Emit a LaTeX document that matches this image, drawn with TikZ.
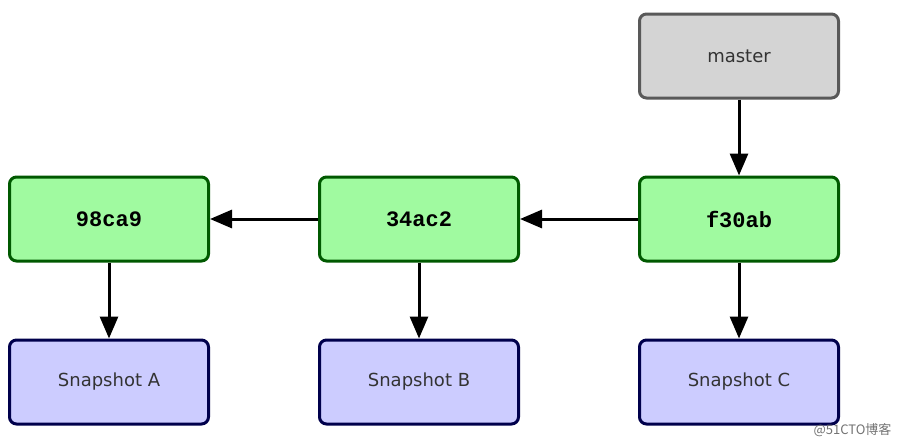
\documentclass[tikz,border=0pt]{standalone}
\usepackage{fontspec}
\setmainfont{DejaVu Sans}
\setmonofont{Liberation Mono}
\newfontfamily\cjk{Noto Sans CJK SC}
\usetikzlibrary{arrows.meta}
\begin{document}
\begin{tikzpicture}[x=1pt,y=-1pt,
  box/.style={draw, line width=3pt, rounded corners=7pt, minimum width=199pt, minimum height=84pt, inner sep=0pt},
  commit/.style={box, draw=green!35!black, fill=green!35!white!85!lime, font=\ttfamily\bfseries\fontsize{22}{24}\selectfont},
  snap/.style={box, draw=blue!30!black, fill={rgb,255:red,204;green,204;blue,255}, font=\fontsize{18}{22}\selectfont, text=black!80},
  ref/.style={box, draw=black!65, fill=black!17, font=\fontsize{18}{22}\selectfont, text=black!80},
  arr/.style={line width=3pt, -{Triangle[length=22pt,width=18pt]}}]
\useasboundingbox (0,0) rectangle (902,447);
\fill[white] (0,0) rectangle (902,447);
\node[ref] (m) at (739,56) {master};
\node[commit, fill={rgb,255:red,160;green,250;blue,160}] (c3) at (739,219) {f30ab};
\node[commit, fill={rgb,255:red,160;green,250;blue,160}] (c2) at (419,219) {34ac2};
\node[commit, fill={rgb,255:red,160;green,250;blue,160}] (c1) at (109,219) {98ca9};
\node[snap] (s3) at (739,382) {Snapshot C};
\node[snap] (s2) at (419,382) {Snapshot B};
\node[snap] (s1) at (109,382) {Snapshot A};
\draw[arr] (m) -- (c3);
\draw[arr] (c3) -- (c2);
\draw[arr] (c2) -- (c1);
\draw[arr] (c1) -- (s1);
\draw[arr] (c2) -- (s2);
\draw[arr] (c3) -- (s3);
\node[anchor=east, text=black!55, font=\cjk\fontsize{13}{15}\selectfont] (wm) at (895,430) {@51CTO博客};
\end{tikzpicture}
\end{document}
